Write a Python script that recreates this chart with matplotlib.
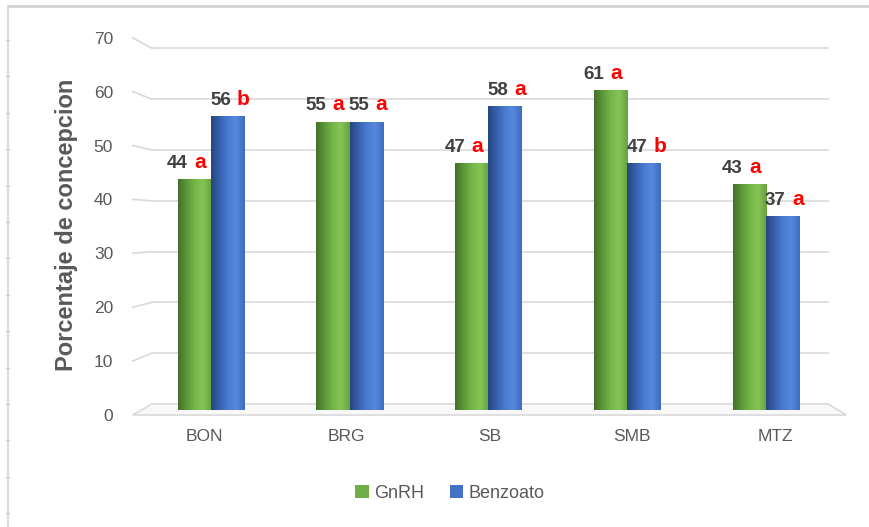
import matplotlib.pyplot as plt
import numpy as np
from matplotlib.colors import LinearSegmentedColormap
from matplotlib.lines import Line2D
from matplotlib.patches import Patch, Polygon

sites = ["BON", "BRG", "SB", "SMB", "MTZ"]
gnrh = [44, 55, 47, 61, 43]
benzoato = [56, 55, 58, 47, 37]
gnrh_letters = ["a", "a", "a", "a", "a"]
benzoato_letters = ["b", "a", "a", "b", "a"]
y_ticks = [0, 10, 20, 30, 40, 50, 60, 70]

W, H = 870, 527
GRAY = "#595959"
GRID = "#d9d9d9"
GREEN = "#70ad47"
BLUE = "#4472c4"

plt.rcParams["font.family"] = ["Liberation Sans", "DejaVu Sans"]


def px_rect(left, top, right, bottom):
    """Axes rectangle from pixel edges (origin top-left)."""
    return [left / W, 1 - bottom / H, (right - left) / W, (bottom - top) / H]


fig = plt.figure(figsize=(W / 100, H / 100), dpi=100)

# the 3-D box is faked with three planes: front edge, bar row, back wall
ax_wall = fig.add_axes(px_rect(152, 48.4, 828, 404))
ax_bar = fig.add_axes(px_rect(141.6, 43, 835.4, 409.5))
ax_front = fig.add_axes(px_rect(132.6, 37.7, 846.4, 415))
for ax in (ax_wall, ax_bar, ax_front):
    ax.set_xlim(-0.5, len(sites) - 0.5)
    ax.set_ylim(0, 70)
    ax.patch.set_visible(False)
    for s in ax.spines.values():
        s.set_visible(False)
    ax.set_xticks([])
    ax.set_yticks([])
ax_wall.set_zorder(0)
ax_front.set_zorder(1)
ax_bar.set_zorder(2)


def front_to_wall(x, y):
    p = ax_front.transData.transform((x, y))
    return ax_wall.transData.inverted().transform(p)


x_lo, x_hi = -0.5, len(sites) - 0.5

# floor
fl = front_to_wall(x_lo, 0)
fr = front_to_wall(x_hi, 0)
floor = Polygon([(x_lo, 0), (x_hi, 0), fr, fl], closed=True,
                facecolor="#f8f8f8", edgecolor=GRID, lw=1.2, clip_on=False)
ax_wall.add_patch(floor)

# gridlines on the back wall plus the slanted side-wall segment
for v in y_ticks[1:]:
    ax_wall.plot([x_lo, x_hi], [v, v], color=GRID, lw=1.2, clip_on=False)
    f = front_to_wall(x_lo, v)
    ax_wall.plot([f[0], x_lo], [f[1], v], color=GRID, lw=1.2, clip_on=False)

# tick labels sit on the front plane
ax_front.set_yticks(y_ticks)
ax_front.set_yticklabels([str(v) for v in y_ticks])
x = np.arange(len(sites))
ax_front.set_xticks(x)
ax_front.set_xticklabels(sites)
ax_front.tick_params(axis="y", length=0, pad=14, labelsize=12.5, labelcolor=GRAY)
ax_front.tick_params(axis="x", length=0, pad=10, labelsize=12.5, labelcolor=GRAY)

# cylinder-ish shading across each bar
green_cmap = LinearSegmentedColormap.from_list(
    "g", ["#44702a", "#5c9838", "#76b649", "#86c456", "#66a13e"])
blue_cmap = LinearSegmentedColormap.from_list(
    "b", ["#27467f", "#3660ad", "#4a7bd0", "#5688de", "#3f6cbc"])
grad = np.linspace(0, 1, 64).reshape(1, -1)

width = 0.24
for offset, vals, cmap in ((-width / 2, gnrh, green_cmap), (width / 2, benzoato, blue_cmap)):
    bars = ax_bar.bar(x + offset, vals, width=width, color="none", edgecolor="none")
    for rect in bars:
        x0 = rect.get_x()
        im = ax_bar.imshow(grad, cmap=cmap, aspect="auto", interpolation="bicubic",
                           extent=[x0, x0 + rect.get_width(), 0, rect.get_height()],
                           zorder=2)
        im.set_clip_path(rect)
ax_bar.set_xlim(-0.5, len(sites) - 0.5)
ax_bar.set_ylim(0, 70)

# value labels with significance letters; green labels lean left, blue lean right
for offset, shift, vals, letters in ((-width / 2, -2.4, gnrh, gnrh_letters),
                                     (width / 2, 4.5, benzoato, benzoato_letters)):
    for xi, v, let in zip(x + offset, vals, letters):
        ax_bar.annotate(str(v), (xi, v), xytext=(shift - 2.2, 8), textcoords="offset points",
                        ha="right", va="baseline", fontsize=13.5, fontweight="bold",
                        color="#404040", annotation_clip=False)
        ax_bar.annotate(let, (xi, v), xytext=(shift + 2.2, 8), textcoords="offset points",
                        ha="left", va="baseline", fontsize=15, fontweight="bold",
                        color="#ff0000", annotation_clip=False)

fig.text(67 / W, 1 - 224.5 / H, "Porcentaje de concepcion", rotation=90,
         ha="center", va="center", fontsize=17, fontweight="bold", color=GRAY)

handles = [Patch(facecolor=GREEN), Patch(facecolor=BLUE)]
fig.legend(handles, ["GnRH", "Benzoato"], loc="center",
           bbox_to_anchor=(450 / W, 1 - 493 / H), ncol=2, frameon=False,
           handlelength=0.75, handleheight=0.75, handletextpad=0.3,
           columnspacing=1.4, fontsize=13, labelcolor=GRAY)

# chart area border with its small ruler marks on the left edge
fig.add_artist(Line2D([8 / W, 1], [1 - 5.5 / H, 1 - 5.5 / H], color="#d4d4d4", lw=2.2))
fig.add_artist(Line2D([8.5 / W, 8.5 / W], [0, 1 - 5.5 / H], color="#dcdcdc", lw=1.5))
for k in range(14):
    yk = 1 - (40 + 36.4 * k) / H
    fig.add_artist(Line2D([6 / W, 9 / W], [yk, yk], color="#d0d0d0", lw=1))

fig.savefig("out.png", dpi=100)
